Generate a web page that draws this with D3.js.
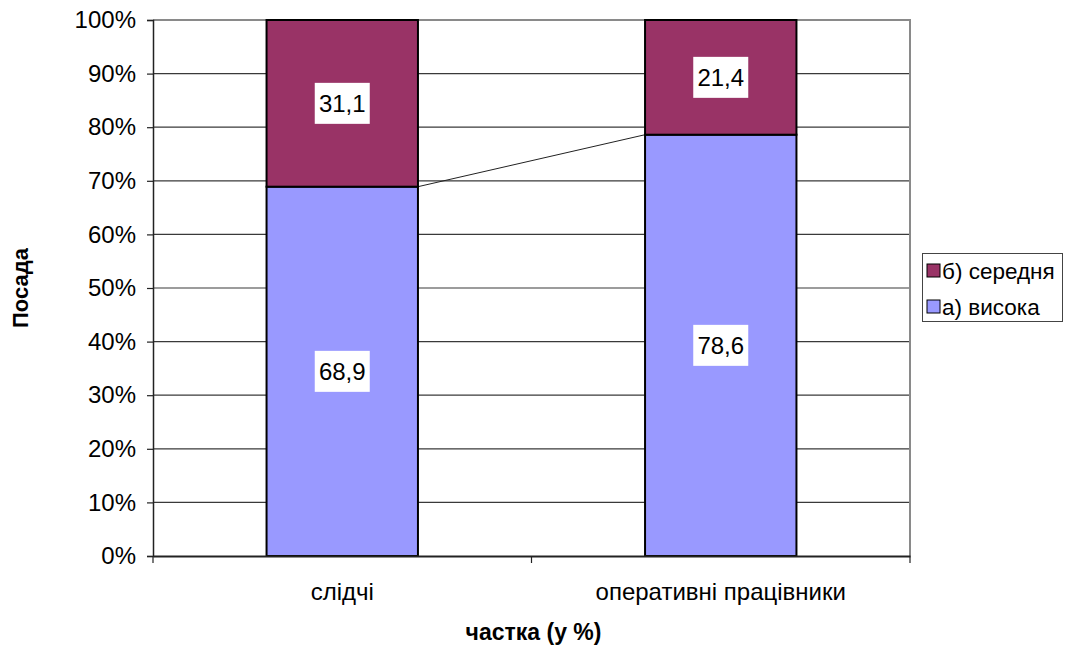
<!DOCTYPE html>
<html>
<head>
<meta charset="utf-8">
<script src="https://cdn.jsdelivr.net/npm/d3@7"></script>
<style>
  html, body { margin: 0; padding: 0; background: #fff; }
  svg { display: block; font-family: "Liberation Sans", Arial, sans-serif; }
</style>
</head>
<body>
<svg id="chart" width="1081" height="646"></svg>
<script>
const categories = ["слідчі", "оперативні працівники"];
const seriesNames = ["а) висока", "б) середня"];
const seriesHigh = [68.9, 78.6];
const seriesMid = [31.1, 21.4];
const labelsHigh = ["68,9", "78,6"];
const labelsMid = ["31,1", "21,4"];
const yTicks = [0, 10, 20, 30, 40, 50, 60, 70, 80, 90, 100];
const colors = ["#9999FF", "#993366"];

(function () {
const svg = d3.select("#chart");
const pLeft = 153, pRight = 910, pTop = 20, pBottom = 556;

const x = d3.scaleBand().domain(categories).range([pLeft, pRight]).paddingInner(0.6).paddingOuter(0.3);
const y = d3.scaleLinear().domain([0, 100]).range([pBottom, pTop]);

// gridlines
svg.append("g").selectAll("line").data(yTicks.filter(t => t > 0 && t < 100)).join("line")
  .attr("x1", pLeft).attr("x2", pRight)
  .attr("y1", d => y(d)).attr("y2", d => y(d))
  .attr("stroke", "#3a3a3a").attr("stroke-width", 1.2);

// plot border top/right (gray)
svg.append("path")
  .attr("d", `M${pLeft},${y(100)}H${pRight}V${pBottom}`)
  .attr("fill", "none").attr("stroke", "#8a8a8a").attr("stroke-width", 2);

// stacked data
const stackData = categories.map((c, i) => ({ cat: c, high: seriesHigh[i], mid: seriesMid[i] }));
const stacked = d3.stack().keys(["high", "mid"])(stackData);
const labelArrays = [labelsHigh, labelsMid];

// series line connecting tops of lower series
svg.append("line")
  .attr("x1", x(categories[0]) + x.bandwidth())
  .attr("y1", y(stacked[0][0][1]))
  .attr("x2", x(categories[1]))
  .attr("y2", y(stacked[0][1][1]))
  .attr("stroke", "#222").attr("stroke-width", 1);

stacked.forEach((layer, li) => {
  svg.append("g").selectAll("rect").data(layer).join("rect")
    .attr("x", d => x(d.data.cat))
    .attr("y", d => y(d[1]))
    .attr("width", x.bandwidth())
    .attr("height", d => y(d[0]) - y(d[1]))
    .attr("fill", colors[li])
    .attr("stroke", "#000").attr("stroke-width", 2);
});

// data labels
stacked.forEach((layer, li) => {
  layer.forEach((d, i) => {
    const cx = x(d.data.cat) + x.bandwidth() / 2;
    const cy = (y(d[0]) + y(d[1])) / 2;
    const w = 55, h = 41;
    svg.append("rect").attr("x", cx - w / 2).attr("y", cy - h / 2)
      .attr("width", w).attr("height", h).attr("fill", "#fff");
    svg.append("text").attr("x", cx).attr("y", cy).attr("dy", "0.36em")
      .attr("text-anchor", "middle").attr("font-size", 24).attr("fill", "#000")
      .text(labelArrays[li][i]);
  });
});

// y axis
const yAxis = d3.axisLeft(y).tickValues(yTicks).tickFormat(d => d + "%").tickSize(6).tickPadding(11);
const ya = svg.append("g").attr("transform", `translate(${pLeft},0)`).call(yAxis);
ya.select(".domain").attr("stroke", "#222").attr("stroke-width", 1.5);
ya.selectAll(".tick line").attr("stroke", "#222").attr("stroke-width", 1.2);
ya.selectAll(".tick text").attr("font-size", 24).attr("fill", "#000").attr("font-family", "Liberation Sans, Arial, sans-serif");

// x axis
const xa = svg.append("g").attr("transform", `translate(0,${pBottom})`).call(d3.axisBottom(x).tickSize(0).tickPadding(27));
xa.select(".domain").attr("stroke", "#222").attr("stroke-width", 2);
xa.selectAll(".tick text").attr("font-size", 24).attr("fill", "#000").attr("font-family", "Liberation Sans, Arial, sans-serif");
const boundaries = [pLeft, ...categories.map(c => x(c) + x.bandwidth() / 2 + x.step() / 2)];
svg.append("g").selectAll("line").data(boundaries).join("line")
  .attr("x1", d => d).attr("x2", d => d).attr("y1", pBottom).attr("y2", pBottom + 7)
  .attr("stroke", "#222").attr("stroke-width", 1.2);

// axis titles
svg.append("text").attr("x", (pLeft + pRight) / 2 + 2).attr("y", 640)
  .attr("text-anchor", "middle").attr("font-size", 23).attr("font-weight", "bold").text("частка (у %)");
svg.append("text").attr("transform", `translate(28,${(pTop + pBottom) / 2}) rotate(-90)`)
  .attr("text-anchor", "middle").attr("font-size", 22).attr("font-weight", "bold").text("Посада");

// legend
const lg = svg.append("g");
lg.append("rect").attr("x", 922.5).attr("y", 253.5).attr("width", 140).attr("height", 68)
  .attr("fill", "#fff").attr("stroke", "#444").attr("stroke-width", 1);
const legendItems = [{ name: seriesNames[1], color: colors[1] }, { name: seriesNames[0], color: colors[0] }];
legendItems.forEach((it, i) => {
  const cy = 271 + i * 36;
  lg.append("rect").attr("x", 927).attr("y", cy - 7).attr("width", 13).attr("height", 13)
    .attr("fill", it.color).attr("stroke", "#000").attr("stroke-width", 1);
  lg.append("text").attr("x", 942).attr("y", cy).attr("dy", "0.36em")
    .attr("font-size", 22.5).attr("fill", "#000").text(it.name);
});
})();
</script>
</body>
</html>
